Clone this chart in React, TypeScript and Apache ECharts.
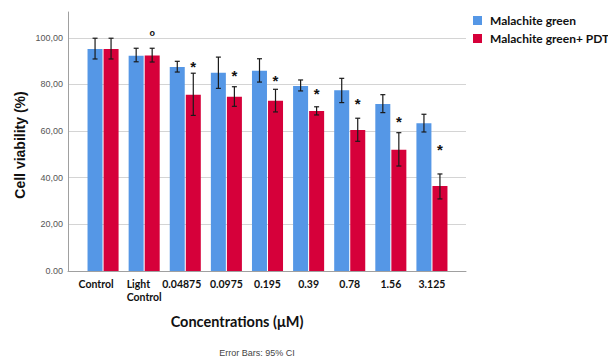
import React, { useEffect, useRef } from "react";
import * as echarts from "echarts";

const categories = ["Control", "Light\nControl", "0.04875", "0.0975", "0.195", "0.39", "0.78", "1.56", "3.125"];
const seriesNames = ["Malachite green", "Malachite green+ PDT"];
const blueMean = [95.2, 92.3, 87.5, 85.0, 85.9, 79.3, 77.5, 71.6, 63.3];
const blueLow = [90.9, 89.7, 85.3, 78.3, 81.0, 77.2, 72.2, 67.9, 59.6];
const blueHigh = [99.8, 95.5, 89.9, 91.7, 91.0, 81.9, 82.6, 75.6, 67.2];
const redMean = [95.2, 92.4, 75.6, 74.7, 73.0, 68.6, 60.5, 52.0, 36.4];
const redLow = [90.9, 89.6, 66.7, 70.6, 68.2, 66.9, 55.6, 45.0, 30.9];
const redHigh = [99.8, 95.5, 84.8, 79.0, 77.9, 70.4, 65.5, 59.3, 41.6];
const sigMarks = ["", "o", "*", "*", "*", "*", "*", "*", "*"];
const sigPos = [0, 101.6, 89.6, 85.4, 83.2, 77.6, 73.7, 66.0, 54.0];
const yTicks = [0, 20, 40, 60, 80, 100];

const BLUE = "#5597E6";
const RED = "#D6003A";
const BAR_W = 15;
const OFFSET = 8.0;

export default function App() {
  const ref = useRef<HTMLDivElement>(null);
  useEffect(() => {
    if (!ref.current) return;
    const chart = echarts.init(ref.current, undefined, { renderer: "svg" });

    const errData = categories.map((_, i) => [i, blueLow[i], blueHigh[i], redLow[i], redHigh[i], sigPos[i]]);

    const labelFont = { fontFamily: "Lato", fontWeight: "bold", fontSize: 10.5, color: "#111", lineHeight: 13 };

    const option: any = {
      animation: false,
      backgroundColor: "#ffffff",
      textStyle: { fontFamily: "Liberation Sans" },
      grid: [
        { left: 68, top: 12, width: 398, height: 259 },
        { left: 68, top: 37.75, width: 398, height: 233.25 },
        { left: 82.5, top: 37.75, width: 370, height: 233.25 },
      ],
      xAxis: [
        {
          gridIndex: 0, type: "value", min: 0, max: 1,
          axisLine: { show: true, onZero: false, lineStyle: { color: "#a0a0a0", width: 1 } },
          axisTick: { show: false }, axisLabel: { show: false }, splitLine: { show: false },
        },
        {
          gridIndex: 1, type: "value", min: 0, max: 1, show: false,
        },
        {
          gridIndex: 2, type: "category", data: categories,
          axisLine: { show: false }, axisTick: { show: false },
          axisLabel: {
            margin: 6,
            interval: 0,
            formatter: (v: string, idx: number) => {
              if (v.includes("\n")) return v.split("\n").map((s) => `{l|${s}}`).join("\n");
              if (idx === 0) return `{s0|${v}}`;
              if (idx === 2) return `{s2|${v}}`;
              return `{c|${v}}`;
            },
            rich: {
              l: { ...labelFont, align: "left" },
              c: { ...labelFont },
              s0: { ...labelFont, padding: [0, 14, 0, 0] },
              s2: { ...labelFont, padding: [0, 7, 0, 0] },
            },
          },
        },
      ],
      yAxis: [
        {
          gridIndex: 0, type: "value", min: 0, max: 111,
          axisLine: { show: true, onZero: false, lineStyle: { color: "#a0a0a0", width: 1 } },
          axisTick: { show: false }, axisLabel: { show: false }, splitLine: { show: false },
        },
        {
          gridIndex: 1, type: "value", min: yTicks[0], max: yTicks[yTicks.length - 1], interval: 20,
          axisLine: { show: false }, axisTick: { show: false },
          axisLabel: {
            margin: 5, fontSize: 9, color: "#555", fontFamily: "Liberation Sans",
            formatter: (v: number) => (v === 0 ? "0.00" : v.toFixed(2).replace(".", ",")),
          },
          splitLine: { show: true, lineStyle: { color: "#d4d4d4", width: 1 } },
        },
        {
          gridIndex: 2, type: "value", min: 0, max: 100, show: false,
        },
      ],
      legend: {
        orient: "vertical", left: 468, top: 8, itemWidth: 9, itemHeight: 9, itemGap: 3,
        icon: "rect",
        textStyle: { fontFamily: "Lato", fontWeight: "bold", fontSize: 12, color: "#111", lineHeight: 15, padding: [0, 0, 0, 3] },
        data: seriesNames,
      },
      series: [
        {
          name: seriesNames[0], type: "bar", xAxisIndex: 2, yAxisIndex: 2,
          data: blueMean, barWidth: BAR_W, barGap: "7%",
          itemStyle: { color: BLUE },
        },
        {
          name: seriesNames[1], type: "bar", xAxisIndex: 2, yAxisIndex: 2,
          data: redMean, barWidth: BAR_W, barGap: "7%",
          itemStyle: { color: RED },
        },
        {
          type: "custom", xAxisIndex: 2, yAxisIndex: 2, z: 10,
          data: errData,
          renderItem: (params: any, api: any) => {
            const i = api.value(0);
            const children: any[] = [];
            const cap = 2.5;
            const style = { stroke: "#1a1a1a", lineWidth: 1.2 };
            const pairs = [[api.value(1), api.value(2), -OFFSET], [api.value(3), api.value(4), OFFSET]];
            for (const [lo, hi, off] of pairs) {
              const pLo = api.coord([i, lo]);
              const pHi = api.coord([i, hi]);
              const x = pLo[0] + off;
              children.push({ type: "line", shape: { x1: x, y1: pLo[1], x2: x, y2: pHi[1] }, style });
              children.push({ type: "line", shape: { x1: x - cap, y1: pLo[1], x2: x + cap, y2: pLo[1] }, style });
              children.push({ type: "line", shape: { x1: x - cap, y1: pHi[1], x2: x + cap, y2: pHi[1] }, style });
            }
            const mark = sigMarks[i];
            if (mark) {
              const p = api.coord([i, api.value(5)]);
              const isStar = mark === "*";
              children.push({
                type: "text",
                x: p[0] + OFFSET,
                y: p[1] + (isStar ? 4 : -1),
                style: {
                  text: mark, align: "center", verticalAlign: "middle",
                  fontFamily: "Liberation Sans", fontWeight: "bold",
                  fontSize: isStar ? 15 : 9, fill: "#111",
                },
              });
            }
            return { type: "group", children };
          },
        },
      ],
      graphic: [
        {
          type: "text", x: 20, y: 145, rotation: Math.PI / 2,
          style: {
            text: "Cell viability (%)", align: "center", verticalAlign: "middle",
            fontFamily: "Liberation Sans", fontWeight: "bold", fontSize: 14, fill: "#111",
          },
        },
        {
          type: "text", x: 237, y: 321,
          style: {
            text: "Concentrations (μM)", align: "center", verticalAlign: "middle",
            fontFamily: "Lato", fontWeight: "bold", fontSize: 14.5, fill: "#111",
          },
        },
        {
          type: "text", x: 257, y: 353,
          style: {
            text: "Error Bars: 95% CI", align: "center", verticalAlign: "middle",
            fontFamily: "Liberation Sans", fontSize: 9, fill: "#444",
          },
        },
      ],
    };
    chart.setOption(option);
    return () => chart.dispose();
  }, []);
  return <div ref={ref} style={{ width: 608, height: 360, position: "absolute", left: 0, top: 0 }} />;
}
